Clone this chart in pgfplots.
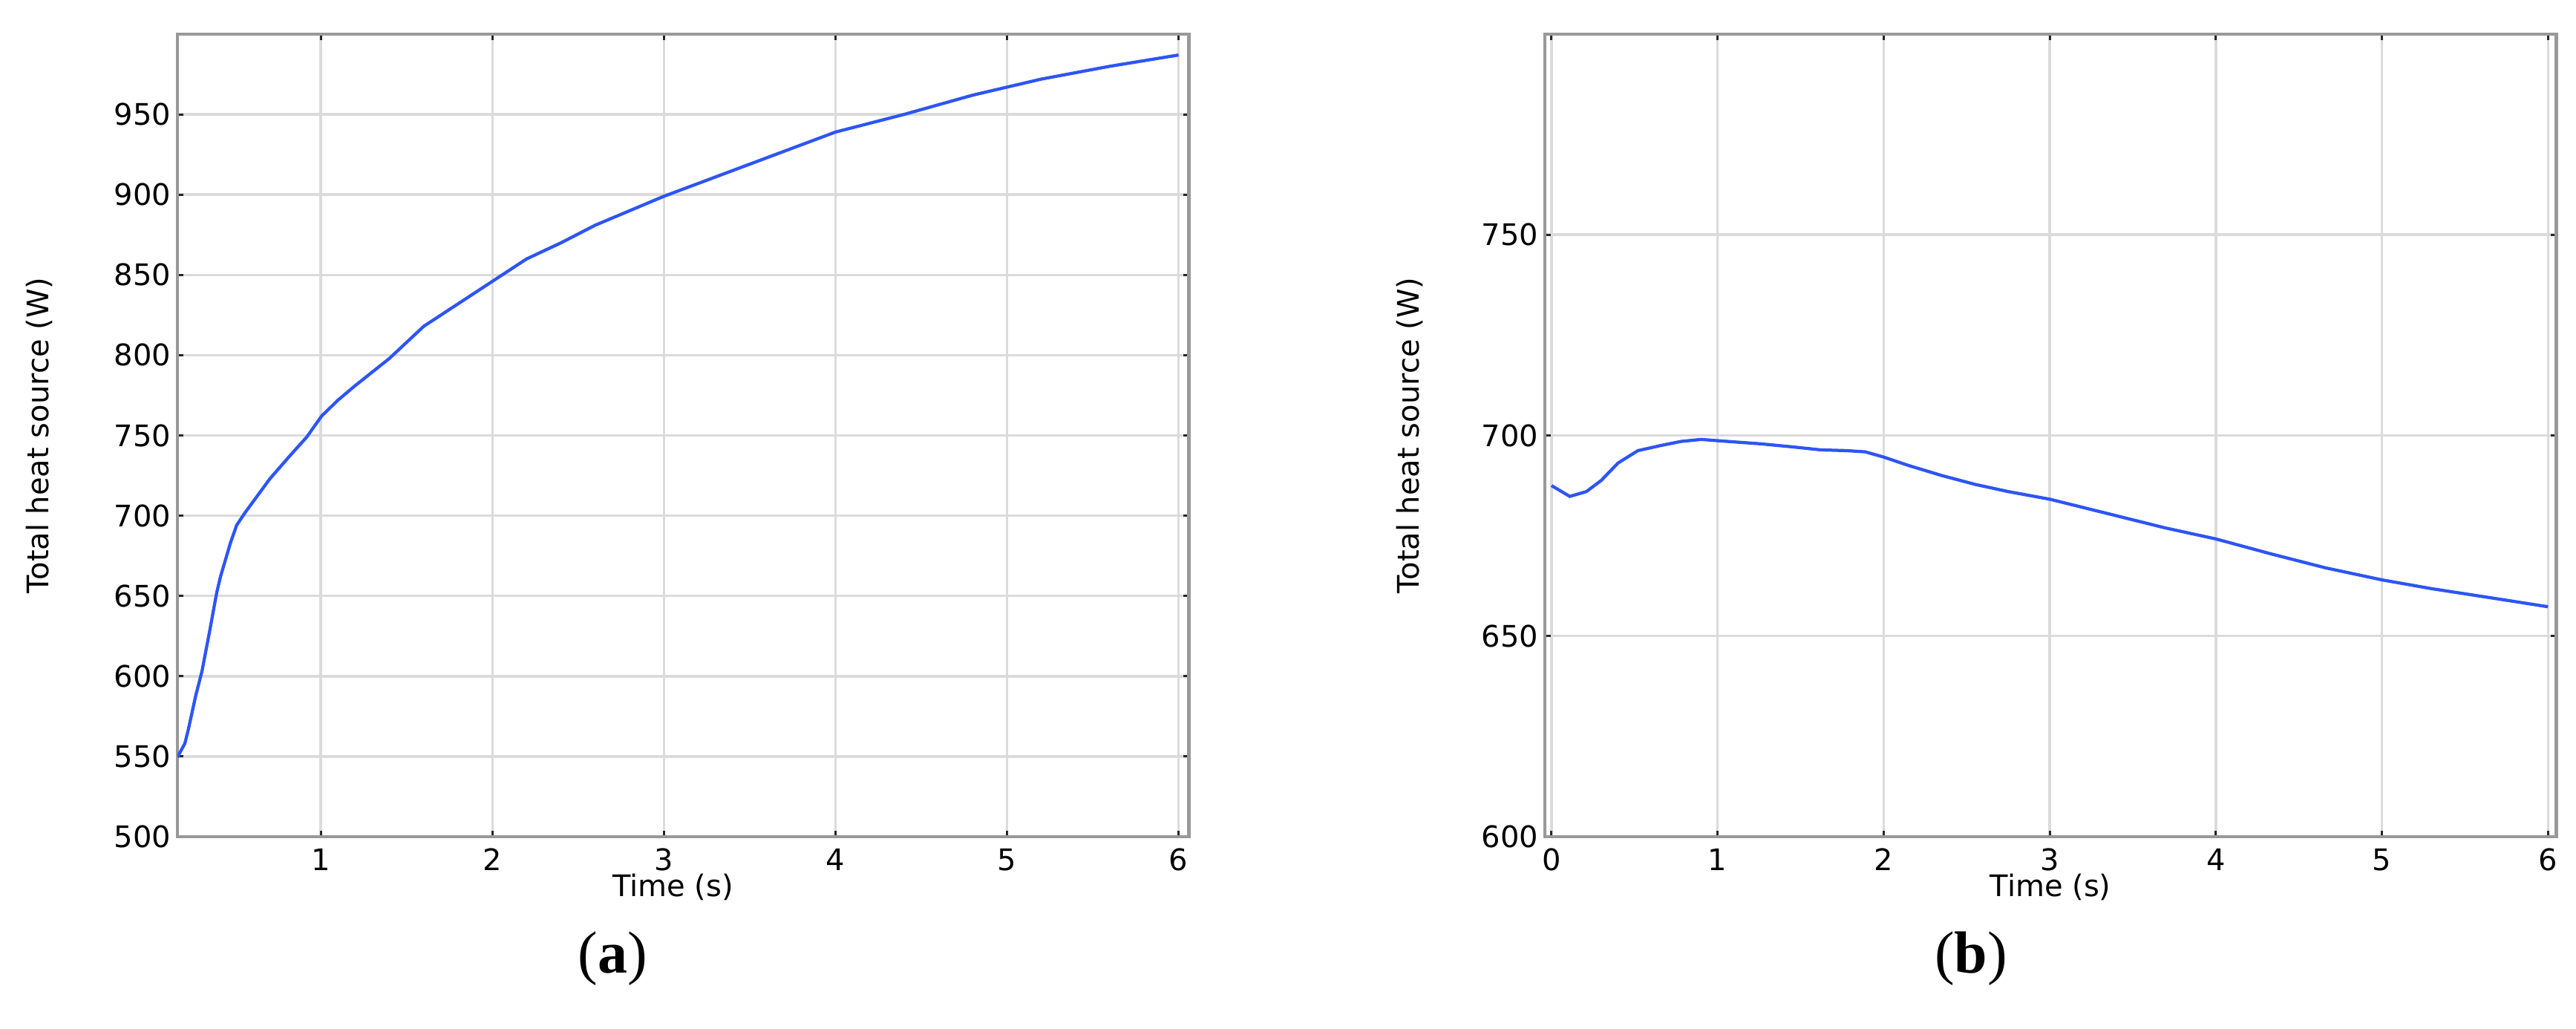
\documentclass[border=0pt]{standalone}
\usepackage{pgfplots}
\pgfplotsset{compat=1.18}
\usepackage{fontspec}
\setmainfont{DejaVu Sans}
\newfontfamily\capfont{Liberation Serif}
\definecolor{curve}{RGB}{45,85,245}
\pgfplotsset{
  comsol/.style={
    scale only axis,
    width=272.5pt, height=216.2pt,
    /pgf/number format/assume math mode=true,
    font=\fontsize{8}{9.6}\selectfont,
    grid=major,
    major grid style={black!14, line width=0.7pt},
    axis line style={black!40, line width=0.9pt},
    tick align=inside,
    major tick length=1.6pt,
    tick style={black!85, line width=0.6pt},
    xticklabel style={inner sep=0pt, yshift=-3pt},
    yticklabel style={inner sep=0pt, xshift=-1.6pt},
    xlabel={Time (s)},
    ylabel={Total heat source (W)},
    xlabel style={anchor=center},
    ylabel style={anchor=center},
  }
}
\begin{document}
\begin{tikzpicture}
\path[use as bounding box] (0,0) rectangle (694pt,277.2pt);
\begin{axis}[comsol,
  at={(47.8pt,51.8pt)}, anchor=south west,
  xmin=0.164, xmax=6.06, ymin=500, ymax=1000,
  xtick={1,2,3,4,5,6}, ytick={500,550,...,950},
  xlabel style={at={(axis description cs:0.49,-0.063)}},
  ylabel style={at={(axis description cs:-0.1365,0.5)}},
]
\addplot[curve, line width=0.85pt] coordinates {
(0.164,549.5) (0.207,558) (0.228,567) (0.271,588) (0.307,603) (0.35,627)
(0.393,652) (0.415,662) (0.473,683) (0.509,694) (0.559,702) (0.703,723)
(0.817,737) (0.918,749) (1.004,762) (1.1,772) (1.2,781) (1.4,798)
(1.6,818) (1.8,832) (2.0,846) (2.2,860) (2.4,870) (2.6,881) (2.8,890)
(3.0,899) (3.2,907) (3.4,915) (3.6,923) (3.8,931) (4.0,939) (4.4,950)
(4.8,962) (5.0,967) (5.2,972) (5.6,980) (6.0,987)
};
\end{axis}
\begin{axis}[comsol,
  at={(416.2pt,51.8pt)}, anchor=south west,
  xmin=-0.04, xmax=6.05, ymin=600, ymax=800,
  xtick={0,1,2,3,4,5,6}, ytick={600,650,700,750},
  xlabel style={at={(axis description cs:0.5,-0.063)}},
  ylabel style={at={(axis description cs:-0.1336,0.5)}},
]
\addplot[curve, line width=0.85pt] coordinates {
(0.0,687.5) (0.11,684.8) (0.21,686) (0.30,688.8) (0.40,693.1) (0.52,696.2)
(0.66,697.5) (0.78,698.5) (0.90,699) (1.06,698.5) (1.26,697.9) (1.46,697.1)
(1.62,696.4) (1.78,696.2) (1.89,695.9) (2.0,694.6) (2.15,692.5) (2.35,690)
(2.55,687.8) (2.75,686) (3.0,684.1) (3.37,680.3) (3.69,677) (4.0,674.2)
(4.33,670.5) (4.66,667) (5.0,664) (5.3,661.8) (5.52,660.4) (5.8,658.6) (6.0,657.3)
};
\end{axis}
\node[font=\capfont\fontsize{16}{19}\selectfont] at (165pt,19pt) {(\textbf{a})};
\node[font=\capfont\fontsize{16}{19}\selectfont] at (531pt,19pt) {(\textbf{b})};
\end{tikzpicture}
\end{document}
